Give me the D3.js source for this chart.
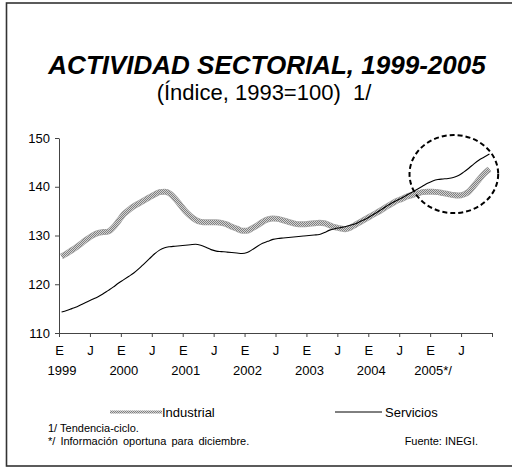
<!DOCTYPE html>
<html>
<head>
<meta charset="utf-8">
<script src="https://cdn.jsdelivr.net/npm/d3@7"></script>
<style>
  body { margin: 0; background: #fff; }
  text { font-family: "Liberation Sans", Arial, sans-serif; fill: #000; }
</style>
</head>
<body>
<svg id="chart" width="512" height="474"></svg>
<script>
// monthly index, 1999-01 .. 2005-12
var industrial = [
  125.7,126.3,127.0,127.7,128.5,129.3,130.0,130.5,130.7,130.8,131.6,132.9,
  134.3,135.2,136.0,136.6,137.2,137.8,138.4,138.9,139.0,138.6,137.6,136.3,
  135.0,134.0,133.2,132.8,132.7,132.7,132.7,132.6,132.3,131.8,131.4,131.0,
  131.0,131.5,132.1,132.8,133.3,133.5,133.4,133.1,132.8,132.5,132.3,132.3,
  132.4,132.5,132.6,132.5,132.1,131.7,131.5,131.3,131.6,132.2,132.8,133.4,
  134.0,134.6,135.2,135.9,136.5,137.1,137.5,138.0,138.3,138.6,138.9,139.0,
  139.0,138.9,138.7,138.5,138.3,138.2,138.4,139.0,140.2,141.5,142.7,143.6
];
var servicios = [
  114.3,114.6,115.0,115.4,115.9,116.4,116.9,117.4,118.0,118.7,119.4,120.2,
  120.9,121.6,122.3,123.2,124.2,125.2,126.2,127.0,127.5,127.7,127.8,127.9,
  128.0,128.1,128.2,128.0,127.6,127.1,126.8,126.7,126.6,126.5,126.4,126.3,
  126.5,127.1,127.8,128.4,128.8,129.2,129.4,129.5,129.6,129.7,129.8,129.9,
  130.0,130.1,130.2,130.6,131.1,131.4,131.6,131.8,132.1,132.4,132.9,133.4,
  134.0,134.6,135.3,136.0,136.6,137.2,137.7,138.3,138.9,139.5,140.1,140.7,
  141.2,141.5,141.6,141.7,141.9,142.3,143.0,143.8,144.7,145.5,146.1,146.7
];
var monthTicks = [0,6,12,18,24,30,36,42,48,54,60,66,72,78,84];
var monthLabels = ["E","J","E","J","E","J","E","J","E","J","E","J","E","J",""];
var yearTicks = [0,12,24,36,48,60,72];
var yearLabels = ["1999","2000","2001","2002","2003","2004","2005*/"];
var yTicks = [110,120,130,140,150];
// dashed circle note around the last months (month, value, radius in months, radius in index pts)
var note = {month: 76.6, value: 142.6, rm: 8.6, rv: 8.0};

var svg = d3.select("#chart");
var plotLeft = 59, plotRight = 492, plotTop = 138, plotBottom = 333;

var x = d3.scaleLinear().domain([0, 84]).range([plotLeft, plotRight]);
var y = d3.scaleLinear().domain([110, 150]).range([plotBottom, plotTop]);

// hatch texture for the industrial line
var defs = svg.append("defs");
var pat = defs.append("pattern")
  .attr("id", "hatch")
  .attr("width", 2).attr("height", 2)
  .attr("patternUnits", "userSpaceOnUse");
pat.append("rect").attr("width", 2).attr("height", 2).attr("fill", "#d4d4d4");
pat.append("rect").attr("width", 1).attr("height", 1).attr("fill", "#808080");
pat.append("rect").attr("x", 1).attr("y", 1).attr("width", 1).attr("height", 1).attr("fill", "#808080");

// frame
svg.append("rect")
  .attr("x", 6.5).attr("y", 3).attr("width", 520).attr("height", 463)
  .attr("fill", "none").attr("stroke", "#333").attr("stroke-width", 1.6);

svg.append("text")
  .attr("x", 267).attr("y", 74)
  .attr("text-anchor", "middle")
  .style("font-size", "26px").style("font-weight", "bold").style("font-style", "italic")
  .text("ACTIVIDAD SECTORIAL, 1999-2005");
svg.append("text")
  .attr("x", 264).attr("y", 100)
  .attr("text-anchor", "middle")
  .style("font-size", "22px")
  .attr("xml:space", "preserve")
  .text("(Índice, 1993=100)  1/");

// axes
var yAxis = d3.axisLeft(y).tickValues(yTicks).tickSize(4).tickSizeOuter(0).tickPadding(5);
var gy = svg.append("g").attr("transform", "translate(" + plotLeft + ",0)").call(yAxis);
gy.selectAll("text").style("font-size", "13px");

var xAxis = d3.axisBottom(x).tickValues(monthTicks).tickSize(4).tickSizeOuter(0).tickPadding(9)
  .tickFormat(function(d, i){ return monthLabels[i]; });
var gx = svg.append("g").attr("transform", "translate(0," + plotBottom + ")").call(xAxis);
gx.selectAll("text").style("font-size", "13px");

svg.selectAll("g path.domain, g .tick line").attr("stroke", "#444");

svg.append("g").selectAll("text")
  .data(yearTicks)
  .enter()
  .append("text")
  .attr("x", function(d){ return x(d) + 3; })
  .attr("y", 375)
  .attr("text-anchor", "middle")
  .style("font-size", "13px")
  .text(function(d, i){ return yearLabels[i]; });

// lines
var line = d3.line()
  .x(function(d, i){ return x(i + 0.5); })
  .y(function(d){ return y(d); })
  .curve(d3.curveMonotoneX);

svg.append("path")
  .datum(industrial)
  .attr("fill", "none")
  .attr("stroke", "#a8a8a8")
  .attr("stroke-width", 6)
  .attr("stroke-linecap", "butt")
  .attr("d", line);
svg.append("path")
  .datum(industrial)
  .attr("fill", "none")
  .attr("stroke", "url(#hatch)")
  .attr("stroke-width", 4.6)
  .attr("d", line);

svg.append("path")
  .datum(servicios)
  .attr("fill", "none")
  .attr("stroke", "#000")
  .attr("stroke-width", 1.1)
  .attr("d", line);

svg.append("ellipse")
  .attr("cx", x(note.month)).attr("cy", y(note.value))
  .attr("rx", x(note.rm) - x(0)).attr("ry", y(110) - y(110 + note.rv))
  .attr("fill", "none")
  .attr("stroke", "#000")
  .attr("stroke-width", 2)
  .attr("stroke-dasharray", "5,3");

// legend
svg.append("line")
  .attr("x1", 110).attr("x2", 162).attr("y1", 412).attr("y2", 412)
  .attr("stroke", "url(#hatch)").attr("stroke-width", 3);
svg.append("text").attr("x", 162).attr("y", 417).style("font-size", "13px").text("Industrial");
svg.append("line")
  .attr("x1", 335).attr("x2", 382).attr("y1", 412).attr("y2", 412)
  .attr("stroke", "#000").attr("stroke-width", 1);
svg.append("text").attr("x", 385).attr("y", 417).style("font-size", "13px").text("Servicios");

// notes
svg.append("text").attr("x", 48).attr("y", 432).style("font-size", "11px").text("1/ Tendencia-ciclo.");
svg.append("text").attr("x", 48).attr("y", 445).style("font-size", "11px")
  .style("word-spacing", "2px").text("*/ Información oportuna para diciembre.");
svg.append("text").attr("x", 478).attr("y", 445).attr("text-anchor", "end")
  .style("font-size", "11px").text("Fuente: INEGI.");
</script>
</body>
</html>
